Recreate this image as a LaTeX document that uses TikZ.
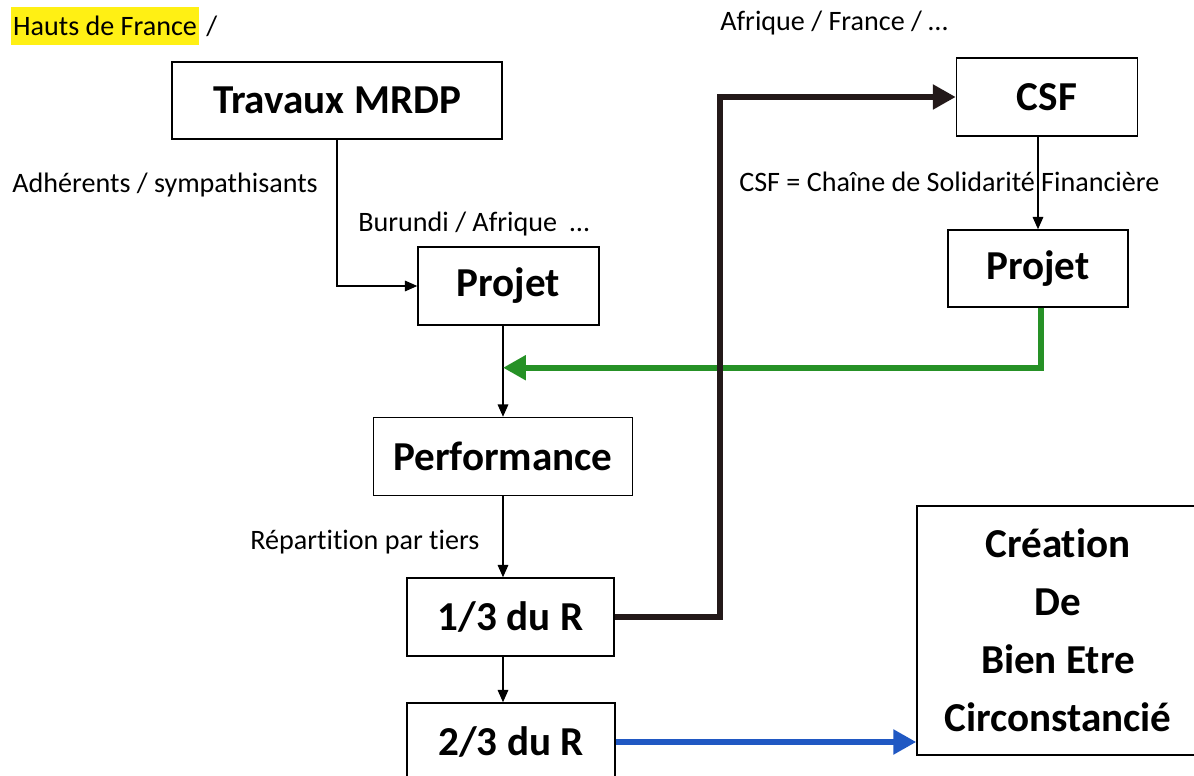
\documentclass[tikz,border=0pt]{standalone}
\usepackage{fontspec}
\setmainfont{Carlito}[Ligatures=NoCommon]
\usepackage{tikz}
\usetikzlibrary{arrows.meta,positioning}

\definecolor{hlyellow}{RGB}{255,240,20}
\definecolor{flowgreen}{RGB}{38,145,38}
\definecolor{flowblue}{RGB}{32,88,195}
\definecolor{flowblack}{RGB}{35,25,25}

\tikzset{
  box/.style={draw, line width=0.85pt, inner sep=0pt, font=\fontsize{23.4}{27}\selectfont\bfseries},
  lbl/.style={anchor=west, inner sep=0pt, font=\fontsize{16}{19}\selectfont},
  thinarrow/.style={line width=0.85pt, -{Triangle[length=7pt,width=6pt]}},
  fatarrow/.style={line width=3.4pt, -{Triangle[length=13pt,width=13.5pt]}}
}

\begin{document}
\begin{tikzpicture}[x=0.02cm, y=-0.02cm]
	% page frame
	\useasboundingbox (0,0) rectangle (1194,776);
	% left column
	\node[box, minimum width=6.6cm, minimum height=1.54cm] (trav) at (337,100.5) {Travaux MRDP};
	\node[box, minimum width=3.62cm, minimum height=1.56cm] (projL) at (508.5,286) {Projet};
	\node[box, minimum width=5.18cm, minimum height=1.56cm] (perf) at (503,456.5) {Performance};
	\node[box, minimum width=4.14cm, minimum height=1.56cm] (r1) at (510.5,617) {1/3 du R};
	\node[box, minimum width=4.16cm, minimum height=1.56cm] (r2) at (511,742) {2/3 du R};
	% right column
	\node[box, minimum width=3.62cm, minimum height=1.56cm] (csf) at (1047,97) {CSF};
	\node[box, minimum width=3.6cm, minimum height=1.54cm] (projR) at (1038,268.5) {Projet};
	\node[box, minimum width=5.64cm, minimum height=4.98cm, align=center,
	      font=\fontsize{23.4}{33}\selectfont\bfseries] (cre) at (1058,630.5)
	      {Création\\De\\Bien Etre\\Circonstancié};
	% texts
	\node[lbl, fill=hlyellow, inner xsep=1pt, inner ysep=5pt] (hauts) at (11,26) {Hauts de France};
	\node[lbl] (slash) at ([xshift=4pt]hauts.east) {/};
	\node[lbl] (adher) at (12,185) {Adhérents / sympathisants};
	\node[lbl] (burundi) at (358,224) {Burundi / Afrique~ …};
	\node[lbl] (afrique) at (720,23) {Afrique / France / …};
	\node[lbl] (csfdef) at (739,182) {CSF = Chaîne de Solidarité Financière};
	\node[lbl] (repart) at (250,542) {Répartition par tiers};
	% thin links
	\draw[thinarrow] (trav.south) |- (projL.west);
	\draw[thinarrow] (perf.north |- projL.south) -- (perf.north);
	\draw[thinarrow] (perf.south) -- (perf.south |- r1.north);
	\draw[thinarrow] (perf.south |- r1.south) -- (perf.south |- r2.north);
	\draw[thinarrow] (projR.north |- csf.south) -- (projR.north);
	% thick links
	\draw[fatarrow, flowgreen] ([xshift=0.06cm]projR.south) |- ([yshift=-0.84cm]perf.north |- projL.south);
	\draw[fatarrow, flowblack] (r1.east) -| ([xshift=-4.72cm]csf.west) -- (csf.west);
	\draw[fatarrow, flowblue] (r2.east) -- (r2.east -| cre.west);
\end{tikzpicture}
\end{document}
